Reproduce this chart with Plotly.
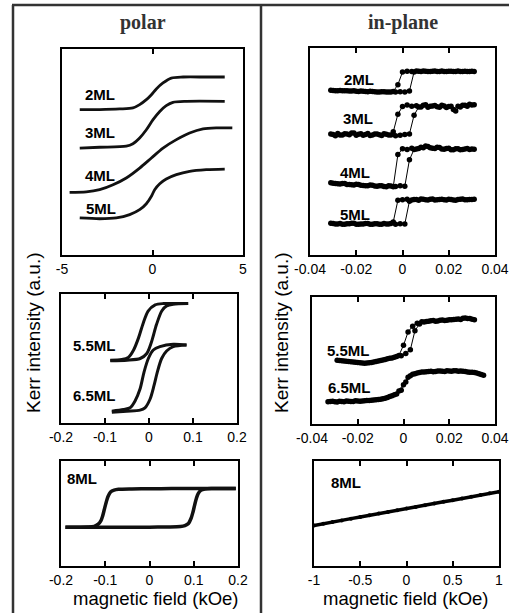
import plotly.graph_objects as go

W, H = 509, 613

# ---------------- data (field in kOe, Kerr intensity in a.u.) ----------------
# polar, thin films
POL_H_2ML = [-4.02, -2.92, -1.81, -1.08, -0.71, -0.34, -0.06, 0.21, 0.58, 1.04, 1.69, 2.97, 3.99]
POL_K_2ML = [70.6, 70.6, 70.9, 71.4, 73.0, 75.4, 77.8, 80.6, 83.5, 85.9, 86.4, 86.4, 86.4]
POL_H_3ML = [-4.02, -2.92, -1.45, -1.08, -0.71, -0.34, 0.03, 0.40, 0.76, 1.13, 1.87, 3.99]
POL_K_3ML = [51.9, 52.3, 52.8, 54.0, 56.8, 60.8, 65.7, 69.7, 72.5, 74.1, 74.6, 74.6]
POL_H_4ML = [-4.58, -3.66, -2.92, -2.18, -1.45, -0.71, -0.06, 0.58, 1.32, 2.05, 2.79, 3.53, 4.41]
POL_K_4ML = [30.4, 30.6, 31.7, 34.1, 37.4, 42.2, 47.1, 51.9, 56.0, 59.2, 61.2, 61.7, 61.7]
POL_H_5ML = [-4.02, -2.92, -2.00, -1.26, -0.71, -0.34, -0.06, 0.12, 0.40, 0.76, 1.32, 2.05, 2.97, 3.99]
POL_K_5ML = [18.0, 17.6, 18.0, 19.6, 22.0, 24.9, 28.5, 31.7, 34.6, 36.9, 39.0, 40.6, 41.4, 41.7]

# in-plane, thin films (increasing-field branch on H_ODD, decreasing on H_EVEN)
H_EVEN = [-0.030, -0.028, -0.026, -0.024, -0.022, -0.020, -0.018, -0.016, -0.014, -0.012, -0.010,
          -0.008, -0.006, -0.004, -0.002, 0.000, 0.002, 0.004, 0.006, 0.008, 0.010, 0.012,
          0.014, 0.016, 0.018, 0.020, 0.022, 0.024, 0.026, 0.028, 0.030]
H_ODD = [-0.031, -0.029, -0.027, -0.025, -0.023, -0.021, -0.019, -0.017, -0.015, -0.013, -0.011,
         -0.009, -0.007, -0.005, -0.003, -0.001, 0.001, 0.003, 0.005, 0.007, 0.009, 0.011,
         0.013, 0.015, 0.017, 0.019, 0.021, 0.023, 0.025, 0.027, 0.029, 0.031]

IP_UP_2ML = [79.6, 79.4, 79.5, 79.3, 79.2, 79.3, 79.0, 79.1, 78.9, 79.0, 78.8, 78.9, 78.7, 78.8, 78.7, 78.9,
             78.8, 79.2, 88.4, 88.8, 88.9, 88.6, 88.8, 88.7, 88.9, 88.6, 88.8, 88.7, 88.6, 88.8, 88.7, 88.6]
IP_DN_2ML = [79.5, 79.4, 79.3, 79.4, 79.2, 79.1, 79.2, 79.0, 79.1, 78.9, 78.8, 78.9, 78.7, 79.0, 82.3,
             88.4, 88.8, 88.6, 88.9, 88.7, 88.8, 88.6, 88.9, 88.7, 88.6, 88.8, 88.7, 88.9, 88.6, 88.7, 88.8]
IP_UP_3ML = [58.4, 57.6, 58.0, 58.6, 58.1, 58.9, 58.3, 57.8, 58.7, 58.0, 58.5, 57.7, 58.3, 58.0, 57.6, 57.9,
             58.2, 58.5, 67.5, 71.5, 72.3, 71.4, 72.0, 71.6, 72.4, 71.2, 71.9, 69.6, 71.5, 72.4, 72.8, 72.6]
IP_DN_3ML = [58.2, 58.7, 58.0, 58.4, 58.9, 57.9, 58.6, 58.2, 57.7, 58.4, 58.1, 58.6, 58.0, 59.5, 68.0,
             71.7, 72.5, 71.8, 72.1, 71.5, 72.6, 71.9, 72.2, 71.4, 72.0, 71.7, 70.3, 71.8, 72.3, 71.9, 72.5]
IP_UP_4ML = [34.9, 34.6, 34.3, 34.5, 34.0, 33.8, 34.1, 33.6, 33.4, 33.7, 33.2, 33.4, 33.0, 33.3, 33.1, 33.4,
             33.2, 46.0, 51.0, 51.5, 51.8, 52.4, 51.6, 52.0, 51.2, 51.5, 50.8, 51.3, 50.9, 51.2, 51.0, 51.1]
IP_DN_4ML = [34.7, 34.4, 34.6, 34.1, 33.9, 34.2, 33.7, 33.5, 33.8, 33.3, 33.5, 33.1, 33.4, 33.0, 48.5,
             51.3, 51.0, 51.6, 51.2, 52.0, 52.6, 51.8, 51.4, 51.9, 51.1, 51.6, 50.9, 51.3, 51.0, 51.4, 51.2]
IP_UP_5ML = [15.3, 15.0, 15.2, 14.9, 15.1, 15.3, 14.8, 15.0, 15.2, 14.9, 15.1, 14.8, 15.0, 15.2, 14.9, 15.1,
             15.0, 26.0, 26.8, 26.5, 26.9, 26.6, 27.0, 26.7, 26.9, 26.6, 26.8, 26.5, 26.9, 26.7, 26.8, 26.9]
IP_DN_5ML = [15.2, 15.0, 14.8, 15.1, 15.3, 14.9, 15.0, 15.2, 14.8, 15.1, 14.9, 15.2, 15.0, 16.0, 26.4,
             26.7, 26.9, 26.6, 26.8, 27.0, 26.7, 26.9, 26.6, 26.8, 26.7, 26.9, 26.6, 26.8, 27.0, 26.7, 26.8]

# polar, 5.5 and 6.5 ML
POL_H_55_DN = [-0.088, -0.062, -0.047, -0.035, -0.024, -0.013, -0.002, 0.014, 0.033, 0.060, 0.089]
POL_K_55_DN = [48.7, 49.2, 50.8, 56.6, 65.8, 77.6, 86.8, 91.6, 92.6, 92.6, 92.6]
POL_H_55_UP = [-0.088, -0.050, -0.020, -0.005, 0.006, 0.017, 0.029, 0.040, 0.055, 0.089]
POL_K_55_UP = [48.2, 48.7, 50.0, 53.9, 63.2, 76.3, 86.8, 90.8, 92.1, 92.6]
POL_H_65_DN = [-0.0845, -0.058, -0.043, -0.0317, -0.0204, -0.0113, -0.0015, 0.0098, 0.0249, 0.0551, 0.0853]
POL_K_65_DN = [9.2, 10.5, 11.8, 17.1, 26.3, 39.5, 50.0, 56.6, 59.2, 61.1, 60.5]
POL_H_65_UP = [-0.0845, -0.0506, -0.0204, -0.0091, 0.0023, 0.0113, 0.0189, 0.0287, 0.040, 0.0551, 0.0853]
POL_K_65_UP = [8.4, 9.2, 10.0, 11.8, 18.4, 28.9, 39.5, 50.0, 55.8, 59.2, 60.5]

# in-plane, 5.5 and 6.5 ML
H55_UP = [-0.029, -0.027, -0.025, -0.023, -0.021, -0.019, -0.017, -0.015, -0.013, -0.011, -0.009,
          -0.007, -0.005, -0.003, -0.001, 0.001, 0.003, 0.005, 0.007, 0.009, 0.011, 0.013, 0.015,
          0.017, 0.019, 0.021, 0.023, 0.025, 0.027, 0.029, 0.031]
IP_UP_55 = [50.2, 49.8, 49.5, 49.0, 48.7, 48.3, 47.9, 48.2, 48.8, 49.6, 50.4, 51.3, 52.0, 53.2, 53.8,
            55.5, 58.5, 73.5, 78.8, 80.3, 80.9, 81.5, 81.2, 81.8, 81.6, 82.1, 82.5, 82.3, 83.4, 83.0, 82.0]
H55_DN = [-0.028, -0.026, -0.024, -0.022, -0.020, -0.018, -0.016, -0.014, -0.012, -0.010, -0.008,
          -0.006, -0.004, -0.002, 0.000, 0.002, 0.004, 0.006, 0.008, 0.010, 0.012, 0.014, 0.016,
          0.018, 0.020, 0.022, 0.024, 0.026, 0.028, 0.030]
IP_DN_55 = [50.0, 49.6, 49.2, 48.9, 48.5, 48.0, 48.1, 48.5, 49.2, 50.0, 50.8, 51.7, 52.6, 54.0,
            62.0, 72.5, 77.0, 79.4, 80.5, 80.7, 81.3, 81.0, 81.7, 81.4, 82.0, 82.3, 82.6, 83.2, 83.1, 82.4]
H65_UP = [-0.033, -0.031, -0.029, -0.027, -0.025, -0.023, -0.021, -0.019, -0.017, -0.015, -0.013,
          -0.011, -0.009, -0.007, -0.005, -0.003, -0.001, 0.001, 0.003, 0.005, 0.007, 0.009, 0.011,
          0.013, 0.015, 0.017, 0.019, 0.021, 0.023, 0.025, 0.027, 0.029, 0.031, 0.033, 0.035]
IP_UP_65 = [17.6, 17.9, 17.4, 17.8, 18.1, 17.7, 18.3, 18.0, 18.4, 18.6, 18.9, 19.2, 19.8, 20.9, 22.3,
            23.6, 26.5, 33.0, 38.0, 39.6, 40.5, 41.0, 41.4, 41.2, 41.7, 41.5, 41.9, 41.6, 42.0, 41.7,
            41.3, 40.8, 40.6, 39.5, 38.4]
H65_DN = [-0.032, -0.030, -0.028, -0.026, -0.024, -0.022, -0.020, -0.018, -0.016, -0.014, -0.012,
          -0.010, -0.008, -0.006, -0.004, -0.002, 0.000, 0.002, 0.004, 0.006, 0.008, 0.010, 0.012,
          0.014, 0.016, 0.018, 0.020, 0.022, 0.024, 0.026, 0.028, 0.030, 0.032, 0.034]
IP_DN_65 = [17.8, 17.5, 17.9, 17.6, 18.0, 17.8, 18.2, 18.1, 18.5, 18.7, 19.0, 19.5, 20.3, 21.6, 23.0,
            26.0, 31.0, 36.8, 39.2, 40.2, 40.9, 41.2, 41.5, 41.3, 41.8, 41.4, 41.7, 41.9, 41.5, 41.6,
            41.0, 40.7, 40.2, 39.0]

# 8 ML
POL_H_8_UP = [-0.19, -0.15, -0.10, -0.05, 0.0, 0.04, 0.07, 0.08, 0.088, 0.094, 0.098, 0.102, 0.106,
              0.11, 0.116, 0.125, 0.14, 0.17, 0.195]
POL_K_8_UP = [36.9, 36.9, 36.9, 36.9, 37.0, 37.2, 37.6, 38.5, 40.5, 45.5, 51.0, 58.0, 64.5, 69.0,
              72.0, 73.3, 73.8, 73.8, 73.8]
POL_H_8_DN = [0.195, 0.15, 0.10, 0.05, 0.0, -0.04, -0.07, -0.08, -0.088, -0.094, -0.098, -0.102,
              -0.106, -0.11, -0.116, -0.125, -0.14, -0.17, -0.19]
POL_K_8_DN = [73.8, 73.8, 73.8, 73.7, 73.6, 73.4, 73.0, 72.2, 70.5, 66.0, 60.5, 54.0, 47.5, 43.0,
              39.8, 37.8, 37.1, 36.9, 36.9]
IP_H_8 = [-1.0, -0.9, -0.8, -0.7, -0.6, -0.5, -0.4, -0.3, -0.2, -0.1, 0.0, 0.1, 0.2, 0.3, 0.4, 0.5,
          0.6, 0.7, 0.8, 0.9, 1.0]
IP_K_8 = [38.5, 40.3, 41.9, 43.4, 45.1, 46.6, 48.3, 50.0, 51.4, 53.1, 54.7, 56.3, 57.9, 59.6, 61.1,
          62.7, 64.4, 66.0, 67.5, 69.2, 70.8]

TICKS_POL_THIN = [-5, 0, 5]
TICKTEXT_POL_THIN = ["-5", "0", "5"]
TICKS_IP = [-0.04, -0.02, 0, 0.02, 0.04]
TICKTEXT_IP = ["-0.04", "-0.02", "0", "0.02", "0.04"]
TICKS_POL = [-0.2, -0.1, 0, 0.1, 0.2]
TICKTEXT_POL = ["-0.2", "-0.1", "0", "0.1", "0.2"]
TICKS_IP8 = [-1, -0.5, 0, 0.5, 1]
TICKTEXT_IP8 = ["-1", "-0.5", "0", "0.5", "1"]

# ---------------- figure ----------------
SANS = "Liberation Sans, Arial, sans-serif"
fig = go.Figure()

# panel boxes in pixels: (x0, x1, ytop, ybottom)
panels = [
    (62, 243, 49, 255, [-5, 5], TICKS_POL_THIN, TICKTEXT_POL_THIN),
    (310, 495, 48, 255, [-0.04, 0.04], TICKS_IP, TICKTEXT_IP),
    (61, 237, 294, 423, [-0.2, 0.2], TICKS_POL, TICKTEXT_POL),
    (312, 495, 297, 424, [-0.04, 0.04], TICKS_IP, TICKTEXT_IP),
    (61, 238, 461, 566, [-0.2, 0.2], TICKS_POL, TICKTEXT_POL),
    (314, 499, 461, 566, [-1, 1], TICKS_IP8, TICKTEXT_IP8),
]

layout_axes = {}
for i, (x0, x1, yt, yb, xr, tv, tt) in enumerate(panels, start=1):
    xn = "xaxis" if i == 1 else f"xaxis{i}"
    yn = "yaxis" if i == 1 else f"yaxis{i}"
    layout_axes[xn] = dict(
        domain=[x0 / W, x1 / W], range=xr, anchor="y" if i == 1 else f"y{i}",
        showline=True, linewidth=2, linecolor="black", mirror="ticks",
        ticks="inside", ticklen=5, tickwidth=1.5, tickcolor="black",
        tickvals=tv, ticktext=tt, showgrid=False, zeroline=False,
        ticklabeloverflow="allow",
        tickfont=dict(family=SANS, size=14, color="black"),
    )
    layout_axes[yn] = dict(
        domain=[1 - yb / H, 1 - yt / H], range=[0, 100], anchor="x" if i == 1 else f"x{i}",
        showline=True, linewidth=2, linecolor="black", mirror=True,
        ticks="", showticklabels=False, showgrid=False, zeroline=False,
    )


def ax(i):
    return ("x", "y") if i == 1 else (f"x{i}", f"y{i}")


def smooth(i, xs, ys, width=2.8):
    xa, ya = ax(i)
    fig.add_trace(go.Scatter(x=xs, y=ys, xaxis=xa, yaxis=ya, mode="lines",
                             line=dict(color="#111111", width=width, shape="spline", smoothing=0.8),
                             showlegend=False, hoverinfo="skip"))


def dots(i, xs, ys, size=5.5):
    xa, ya = ax(i)
    fig.add_trace(go.Scatter(x=xs, y=ys, xaxis=xa, yaxis=ya, mode="lines+markers",
                             line=dict(color="black", width=1),
                             marker=dict(color="black", size=size),
                             showlegend=False, hoverinfo="skip"))


# panel 1: polar thin
smooth(1, POL_H_2ML, POL_K_2ML)
smooth(1, POL_H_3ML, POL_K_3ML)
smooth(1, POL_H_4ML, POL_K_4ML)
smooth(1, POL_H_5ML, POL_K_5ML)
# panel 2: in-plane thin
for up, dn in [(IP_UP_2ML, IP_DN_2ML), (IP_UP_3ML, IP_DN_3ML), (IP_UP_4ML, IP_DN_4ML), (IP_UP_5ML, IP_DN_5ML)]:
    dots(2, H_ODD, up)
    dots(2, H_EVEN, dn)
# panel 3: polar 5.5 / 6.5
smooth(3, POL_H_55_DN, POL_K_55_DN, 3)
smooth(3, POL_H_55_UP, POL_K_55_UP, 3)
smooth(3, POL_H_65_DN, POL_K_65_DN, 3)
smooth(3, POL_H_65_UP, POL_K_65_UP, 3)
# panel 4: in-plane 5.5 / 6.5
dots(4, H55_UP, IP_UP_55)
dots(4, H55_DN, IP_DN_55)
dots(4, H65_UP, IP_UP_65)
dots(4, H65_DN, IP_DN_65)
# panel 5: polar 8ML
smooth(5, POL_H_8_UP, POL_K_8_UP, 3.5)
smooth(5, POL_H_8_DN, POL_K_8_DN, 3.5)
# panel 6: in-plane 8ML
xa, ya = ax(6)
fig.add_trace(go.Scatter(x=IP_H_8, y=IP_K_8, xaxis=xa, yaxis=ya, mode="lines+markers",
                         line=dict(color="black", width=3.5), marker=dict(color="black", size=4),
                         showlegend=False, hoverinfo="skip"))

annotations = []


def txt(x, y, s, size=16, bold=True, family=SANS, anchor="left", color="black", angle=0):
    annotations.append(dict(x=x / W, y=1 - y / H, xref="paper", yref="paper", text=f"<b>{s}</b>" if bold else s,
                            showarrow=False, xanchor=anchor, yanchor="middle", textangle=angle,
                            font=dict(family=family, size=size, color=color)))


# headings
txt(143, 22, "polar", size=20, family="Liberation Serif, Times New Roman, serif", anchor="center", color="#333333")
txt(403, 22, "in-plane", size=20, family="Liberation Serif, Times New Roman, serif", anchor="center", color="#333333")
# curve labels
for s, x, y in [("2ML", 83, 95), ("3ML", 83, 133), ("4ML", 83, 176), ("5ML", 84, 208),
                ("2ML", 342, 79), ("3ML", 341, 118), ("4ML", 338, 172), ("5ML", 338, 214),
                ("5.5ML", 71, 345), ("6.5ML", 71, 395), ("5.5ML", 325, 350), ("6.5ML", 326, 387),
                ("8ML", 65, 478), ("8ML", 329, 482)]:
    txt(x, y, s, size=15)
# axis titles
txt(156, 598, "magnetic field (kOe)", size=18.5, bold=False, anchor="center")
txt(406, 598, "magnetic field (kOe)", size=18.5, bold=False, anchor="center")
txt(33, 333, "Kerr intensity (a.u.)", size=19, bold=False, anchor="center", angle=-90)
txt(281, 333, "Kerr intensity (a.u.)", size=19, bold=False, anchor="center", angle=-90)

shapes = []
for (x0, y0, x1, y1) in [(12, 5, 509, 5), (13, 5, 13, 613), (261, 5, 261, 613)]:
    shapes.append(dict(type="line", xref="paper", yref="paper", x0=x0 / W, x1=x1 / W,
                       y0=1 - y0 / H, y1=1 - y1 / H, line=dict(color="#333333", width=2.5)))

fig.update_layout(width=W, height=H, margin=dict(l=0, r=0, t=0, b=0, pad=0, autoexpand=False),
                  paper_bgcolor="white", plot_bgcolor="white",
                  annotations=annotations, shapes=shapes, **layout_axes)

fig.write_html("out.html", config={"displayModeBar": False},
               post_script="document.body.style.margin='0';document.body.style.overflow='hidden';")
